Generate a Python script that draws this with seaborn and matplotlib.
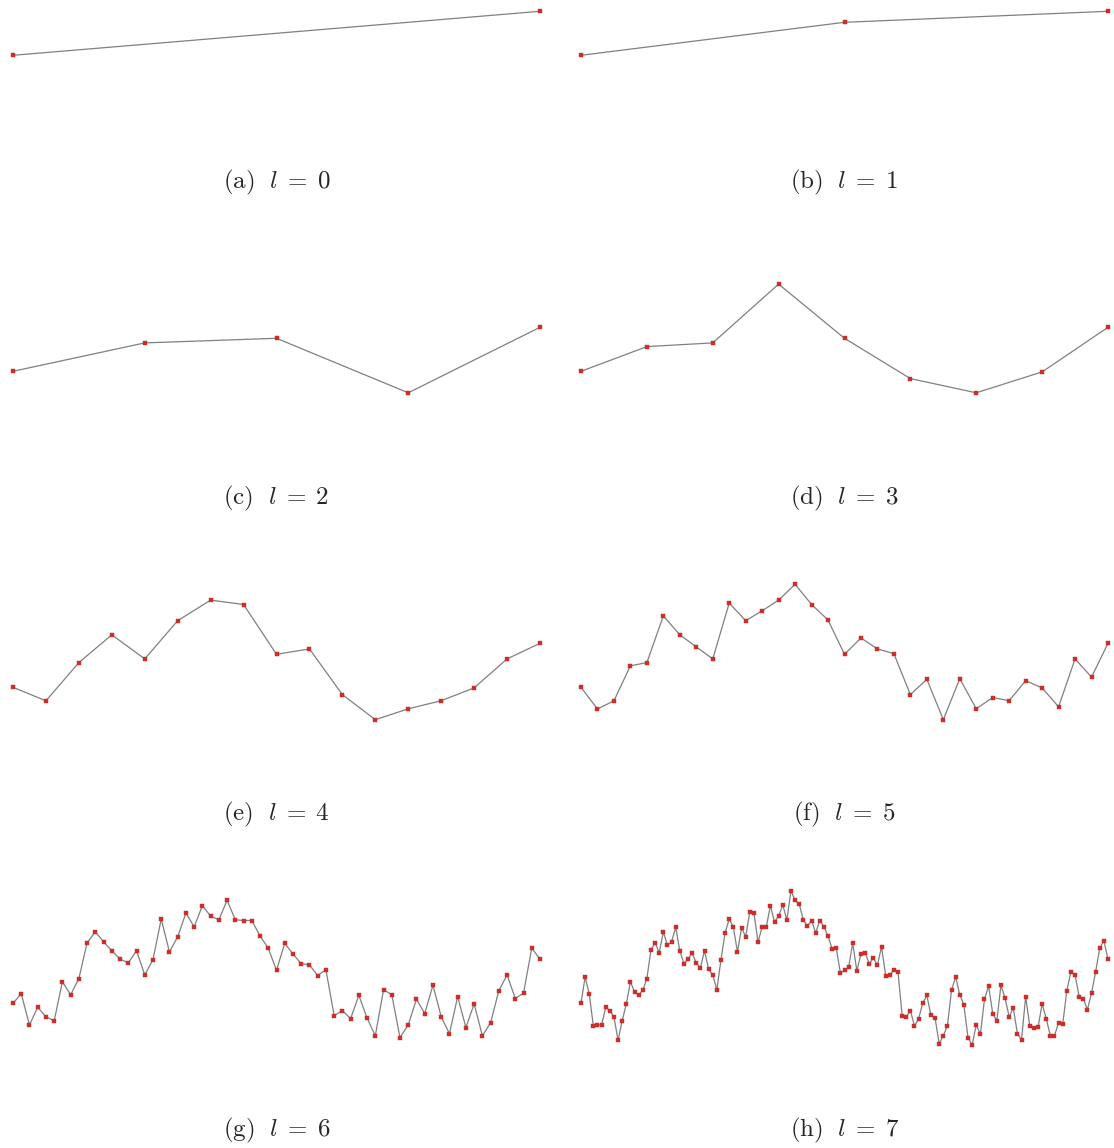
import matplotlib
matplotlib.use("Agg")
import matplotlib.pyplot as plt
import numpy as np
import pandas as pd
import seaborn as sns

# Midpoint-displacement random walk at the finest level (2**7 + 1 points).
# Every coarser level l keeps every 2**(7-l)-th point of this walk.
walk_heights = [
    0.0, 26.3, 9.5, -22.7, -21.7, -21.7, -4.0, -7.4, -13.5, -37.0,
    -17.5, -0.7, 21.5, 11.6, 8.5, 13.0, 24.7, 53.6, 60.6, 50.6,
    71.4, 58.0, 61.5, 76.0, 52.5, 39.6, 44.3, 50.0, 40.4, 35.6,
    52.6, 34.0, 28.4, 13.6, 43.6, 70.6, 84.3, 76.3, 51.3, 75.3,
    66.6, 91.6, 90.3, 61.3, 76.5, 76.3, 97.6, 81.3, 87.2, 98.3,
    83.5, 112.3, 103.0, 99.0, 83.5, 77.3, 82.8, 70.3, 82.8, 76.6,
    67.3, 54.0, 55.1, 30.3, 33.0, 36.3, 60.0, 32.6, 49.3, 50.6,
    39.6, 45.0, 38.4, 56.6, 27.8, 28.0, 33.6, 31.0, -12.2, -13.7,
    -7.3, -22.7, -15.4, 0.0, 8.0, -12.0, -14.8, -40.4, -32.4, -22.4,
    13.5, 26.3, 8.6, -1.7, -34.4, -41.7, -21.5, -31.0, 4.1, 17.3,
    -10.2, -17.4, 18.1, 5.0, -13.4, -4.7, -30.4, -36.4, 6.6, -22.7,
    -24.2, -24.0, -0.6, -15.4, -32.4, -32.4, -19.5, -21.0, 12.6, 31.6,
    28.4, 6.6, 4.8, -6.4, 10.2, 31.6, 55.3, 62.6, 44.0,
]
levels = [0, 1, 2, 3, 4, 5, 6, 7]
panel_tags = ["(a)", "(b)", "(c)", "(d)", "(e)", "(f)", "(g)", "(h)"]

sns.set_style("white")
plt.rcParams["mathtext.fontset"] = "cm"
plt.rcParams["font.family"] = ["DejaVu Serif"]

W, H = 1114, 1148
fig = plt.figure(figsize=(W / 100, H / 100), dpi=100)

col_left = [13, 581]
col_width = 527
row_zero = [55.3 + 316 * k for k in range(4)]
y_lo, y_hi = -60.0, 125.0
finest = len(walk_heights) - 1

for lvl, tag in zip(levels, panel_tags):
    row, col = divmod(lvl, 2)
    step = finest // (2 ** lvl)
    ys = walk_heights[::step]
    xs = np.linspace(0.0, 1.0, len(ys))
    df = pd.DataFrame({"t": xs, "height": ys})

    top_px = row_zero[row] - y_hi
    ax_h = y_hi - y_lo
    ax = fig.add_axes([col_left[col] / W, 1 - (top_px + ax_h) / H,
                       col_width / W, ax_h / H])
    ax.set_facecolor("none")
    sns.lineplot(data=df, x="t", y="height", ax=ax, sort=False,
                 color="#808080", linewidth=0.9, marker="s", markersize=3.2,
                 markerfacecolor="#cc2e2e", markeredgecolor="#cc2e2e",
                 markeredgewidth=0.3, clip_on=False)
    ax.set_xlim(0, 1)
    ax.set_ylim(y_lo, y_hi)
    ax.set_axis_off()

    cx = col_left[col] + col_width / 2
    cy = 182 + 316 * row
    fig.text(cx / W, 1 - cy / H, r"$\mathrm{%s}\ \ l\;=\;%d$" % (tag, lvl),
             ha="center", va="center", fontsize=18)

fig.savefig("out.png", dpi=100, facecolor="white")
